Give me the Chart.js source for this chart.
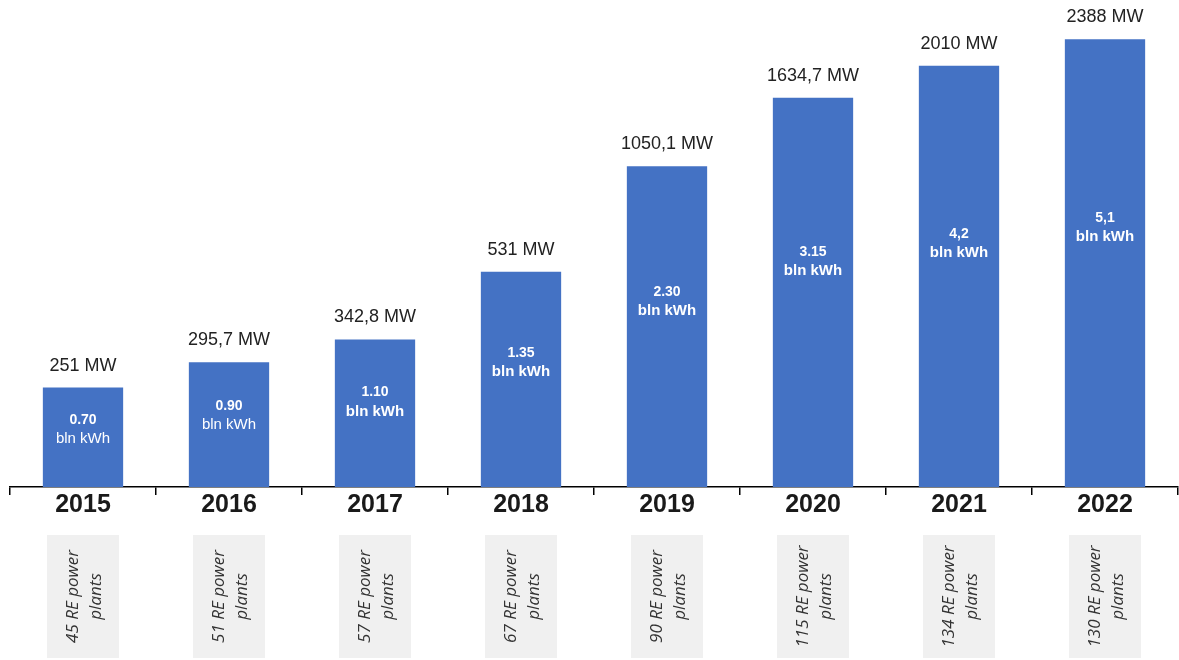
<!DOCTYPE html>
<html>
<head>
<meta charset="utf-8">
<script src="https://cdn.jsdelivr.net/npm/chart.js@4/dist/chart.umd.min.js"></script>
<style>
  html, body { margin: 0; padding: 0; background: #fff; }
  #wrap { width: 1179px; height: 660px; position: relative; }
</style>
</head>
<body>
<div id="wrap"><canvas id="chart"></canvas></div>
<script>
// data
const years = ['2015', '2016', '2017', '2018', '2019', '2020', '2021', '2022'];
const capacityMW = [251, 295.7, 342.8, 531, 1050.1, 1634.7, 2010, 2388];
const capacityLabels = ['251 MW', '295,7 MW', '342,8 MW', '531 MW', '1050,1 MW', '1634,7 MW', '2010 MW', '2388 MW'];
const generationLabels = ['0.70', '0.90', '1.10', '1.35', '2.30', '3.15', '4,2', '5,1'];
const plantCounts = [45, 51, 57, 67, 90, 115, 134, 130];

const BLUE = '#4472c4';

// labels above / inside bars + grey boxes under the axis
const barLabels = {
  id: 'barLabels',
  afterDatasetsDraw(chart) {
    const ctx = chart.ctx;
    const bars = chart.getDatasetMeta(0).data;
    const area = chart.chartArea;
    ctx.save();
    bars.forEach((bar, i) => {
      // capacity above the bar
      ctx.fillStyle = '#222';
      ctx.font = '18px "Liberation Sans", Arial, sans-serif';
      ctx.textAlign = 'center';
      ctx.textBaseline = 'middle';
      ctx.fillText(capacityLabels[i], bar.x, bar.y - 22);

      // generation inside the bar
      const mid = bar.y + 0.42 * (bar.base - bar.y);
      ctx.fillStyle = '#fff';
      ctx.font = 'bold 14px "Liberation Sans", Arial, sans-serif';
      ctx.fillText(generationLabels[i], bar.x, mid - 9);
      ctx.font = (i < 2 ? '' : 'bold ') + '15px "Liberation Sans", Arial, sans-serif';
      ctx.fillText('bln kWh', bar.x, mid + 10);

      // plant count box
      const boxTop = area.bottom + 48;
      const boxH = 123, boxW = 72;
      ctx.fillStyle = '#f0f0f0';
      ctx.fillRect(bar.x - boxW / 2, boxTop, boxW, boxH);
      ctx.save();
      ctx.translate(bar.x + 1, boxTop + boxH / 2);
      ctx.rotate(-Math.PI / 2);
      ctx.fillStyle = '#333';
      ctx.font = 'italic 17px "Open Sans", sans-serif';
      ctx.fillText(plantCounts[i] + ' RE power', 0, -11);
      ctx.fillText('plants', 0, 12);
      ctx.restore();
    });
    ctx.restore();
  }
};

new Chart(document.getElementById('chart'), {
  type: 'bar',
  data: {
    labels: years,
    datasets: [{
      data: capacityMW,
      backgroundColor: BLUE,
      borderWidth: 0,
      categoryPercentage: 1,
      barPercentage: 0.55
    }]
  },
  options: {
    responsive: true,
    maintainAspectRatio: false,
    animation: false,
    layout: { padding: { left: 10, right: 1, top: 0, bottom: 0 } },
    plugins: { legend: { display: false }, tooltip: { enabled: false } },
    scales: {
      x: {
        grid: {
          offset: true,
          drawOnChartArea: false,
          tickLength: 8,
          color: '#000',
          lineWidth: 1.5
        },
        border: { display: true, color: '#000', width: 1.5 },
        ticks: {
          color: '#1a1a1a',
          padding: -5,
          font: { family: '"Liberation Sans", Arial, sans-serif', size: 25, weight: 'bold' }
        },
        afterFit: scale => { scale.height = 173; }
      },
      y: {
        type: 'logarithmic',
        display: false,
        min: 132,
        max: 3076
      }
    }
  },
  plugins: [barLabels]
});
</script>
</body>
</html>
